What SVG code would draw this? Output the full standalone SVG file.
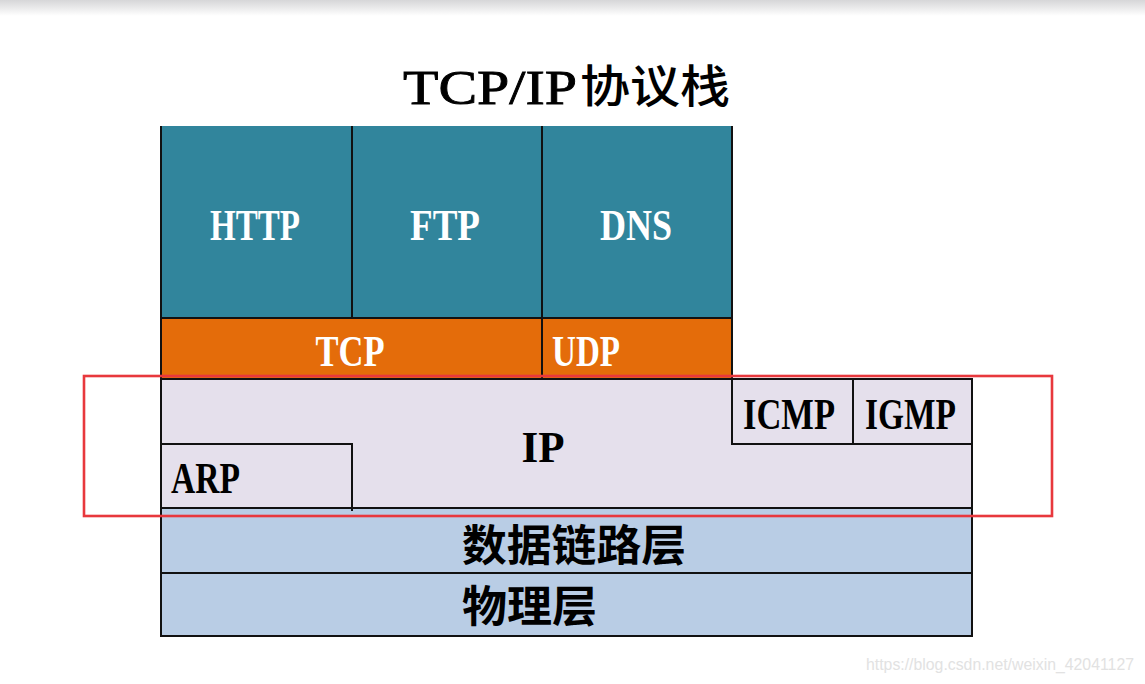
<svg xmlns="http://www.w3.org/2000/svg" width="1145" height="684" viewBox="0 0 1145 684">
<defs>
<linearGradient id="topShade" x1="0" y1="0" x2="0" y2="1">
<stop offset="0" stop-color="#d6d6d8"/>
<stop offset="1" stop-color="#ffffff"/>
</linearGradient>
</defs>
<style>
.ln{stroke:#111;stroke-width:2;fill:none}
.teal{fill:#31859c}
.orange{fill:#e46c0a}
.lav{fill:#e5e0ec}
.blue{fill:#b9cde5}
.w{fill:#ffffff;font-family:"Liberation Serif","DejaVu Serif",serif;font-weight:bold;font-size:44px;text-anchor:middle}
.b{fill:#000000;font-family:"Liberation Serif","DejaVu Serif",serif;font-weight:bold;font-size:44px;text-anchor:middle}
.cjk{fill:#000000;font-family:"Noto Sans CJK SC","Noto Sans CJK TC",sans-serif;font-weight:bold;font-size:43px}
</style>
<rect x="0" y="0" width="1145" height="684" fill="#ffffff"/>
<rect x="0" y="0" width="1145" height="16" fill="url(#topShade)"/>

<g id="title">
<text x="403" y="104" fill="#000" font-family="'Liberation Serif','DejaVu Serif',serif" font-size="48" textLength="174" lengthAdjust="spacingAndGlyphs" stroke="#000" stroke-width="0.8">TCP/IP</text>
<text x="580" y="103" fill="#000" font-family="'Noto Sans CJK SC','Noto Sans CJK TC',sans-serif" font-weight="500" font-size="45" textLength="150" lengthAdjust="spacingAndGlyphs">协议栈</text>
</g>

<g id="http">
<rect class="teal" x="161" y="126" width="191" height="192"/>
<text class="w" x="255" y="240" textLength="90" lengthAdjust="spacingAndGlyphs">HTTP</text>
</g>
<g id="ftp">
<rect class="teal" x="352" y="126" width="190" height="192"/>
<text class="w" x="445" y="240" textLength="70" lengthAdjust="spacingAndGlyphs">FTP</text>
</g>
<g id="dns">
<rect class="teal" x="542" y="126" width="190" height="192"/>
<text class="w" x="636" y="240" textLength="72" lengthAdjust="spacingAndGlyphs">DNS</text>
</g>

<g id="tcp">
<rect class="orange" x="161" y="318" width="381" height="61"/>
<text class="w" x="350" y="366" textLength="69" lengthAdjust="spacingAndGlyphs">TCP</text>
</g>
<g id="udp">
<rect class="orange" x="542" y="318" width="190" height="61"/>
<text class="w" x="586" y="366" textLength="68" lengthAdjust="spacingAndGlyphs">UDP</text>
</g>

<g id="ip">
<rect class="lav" x="161" y="379" width="811" height="129"/>
<text class="b" x="543" y="462" textLength="43" lengthAdjust="spacingAndGlyphs">IP</text>
</g>
<g id="arp">
<rect class="lav" x="161" y="444" width="191" height="64"/>
<text class="b" x="205.5" y="493" textLength="69" lengthAdjust="spacingAndGlyphs">ARP</text>
</g>
<g id="icmp">
<rect class="lav" x="732" y="379" width="121" height="65"/>
<text class="b" x="789" y="429" textLength="92" lengthAdjust="spacingAndGlyphs">ICMP</text>
</g>
<g id="igmp">
<rect class="lav" x="853" y="379" width="119" height="65"/>
<text class="b" x="910.5" y="429" textLength="91" lengthAdjust="spacingAndGlyphs">IGMP</text>
</g>

<g id="datalink">
<rect class="blue" x="161" y="508" width="811" height="65"/>
<text class="cjk" x="462" y="561" textLength="224" lengthAdjust="spacingAndGlyphs">数据链路层</text>
</g>
<g id="physical">
<rect class="blue" x="161" y="573" width="811" height="63"/>
<text class="cjk" x="462" y="622" textLength="135" lengthAdjust="spacingAndGlyphs">物理层</text>
</g>

<g id="borders">
<path class="ln" d="M161 126 V636 H972 V379 H732 V126"/>
<path class="ln" d="M352 126 V318 M542 126 V379 M161 318 H732 M161 379 H732"/>
<path class="ln" d="M732 379 V444 H972 M853 379 V444"/>
<path class="ln" d="M161 444 H352 V511"/>
<path class="ln" d="M161 508 H972 M161 573 H972"/>
</g>

<g id="highlight">
<rect x="84" y="376" width="968" height="140" fill="none" stroke="#e8383d" stroke-width="2.6"/>
</g>

<g id="watermark">
<text x="1134" y="670" text-anchor="end" fill="#e2e2e2" font-family="'Liberation Sans',Arial,sans-serif" font-size="17" textLength="268" lengthAdjust="spacingAndGlyphs">https://blog.csdn.net/weixin_42041127</text>
</g>
</svg>
